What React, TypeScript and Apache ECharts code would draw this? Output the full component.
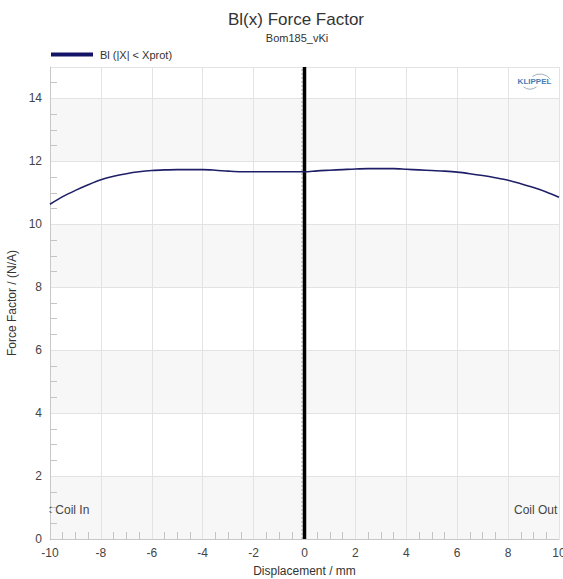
import React, { useEffect, useRef } from "react";
import * as echarts from "echarts";

const displacement = [
  -10, -9.5, -9, -8.5, -8, -7.5, -7, -6.5, -6, -5.5, -5, -4.5, -4, -3.5, -3, -2.5, -2, -1.5, -1, -0.5,
  0, 0.5, 1, 1.5, 2, 2.5, 3, 3.5, 4, 4.5, 5, 5.5, 6, 6.5, 7, 7.5, 8, 8.5, 9, 9.5, 10,
];
const forceFactor = [
  10.64, 10.88, 11.08, 11.26, 11.42, 11.53, 11.61, 11.67, 11.71, 11.73, 11.74, 11.74, 11.74, 11.72, 11.69, 11.67,
  11.67, 11.67, 11.67, 11.67, 11.67, 11.7, 11.72, 11.74, 11.76, 11.77, 11.77, 11.77, 11.75, 11.73, 11.71, 11.69,
  11.66, 11.61, 11.55, 11.48, 11.4, 11.29, 11.17, 11.03, 10.86,
];
const restPositionX = [0, 0];
const restPositionY = [0, 15];
const dottedX = [-0.1, -0.1];

const seriesName = "Bl (|X| < Xprot)";
const titleText = "Bl(x) Force Factor";
const subtitleText = "Bom185_vKi";
const xAxisName = "Displacement / mm";
const yAxisName = "Force Factor / (N/A)";
const FONT = "Arial, 'Liberation Sans', sans-serif";

export default function App() {
  const ref = useRef<HTMLDivElement>(null);
  useEffect(() => {
    document.body.style.margin = "0";
    if (!ref.current) return;
    const chart = echarts.init(ref.current, undefined, { renderer: "svg" });
    const mainData = displacement.map((x, i) => [x, forceFactor[i]]);
    const restLine = restPositionX.map((x, i) => [x, restPositionY[i]]);
    const dottedLine = dottedX.map((x, i) => [x, restPositionY[i]]);
    chart.setOption({
      animation: false,
      textStyle: { fontFamily: FONT },
      grid: { left: 50, right: 4, top: 67, bottom: 40, containLabel: false, outerBoundsMode: "none" },
      legend: {
        left: 51,
        top: 49,
        padding: 0,
        data: [{ name: seriesName, icon: "rect" }],
        itemWidth: 42,
        itemHeight: 4,
        itemGap: 6,
        textStyle: { fontSize: 11, color: "#333", fontFamily: FONT, padding: [0, 0, 0, 2] },
      },
      xAxis: {
        type: "value",
        min: -10,
        max: 10,
        interval: 2,
        name: xAxisName,
        nameLocation: "middle",
        nameGap: 26,
        nameTextStyle: { fontSize: 12, color: "#333", fontFamily: FONT },
        axisLine: { show: true, onZero: false, lineStyle: { color: "#c8c8c8" } },
        axisTick: { show: false, inside: true },
        minorTick: { show: true, splitNumber: 4, length: 7, lineStyle: { color: "#c4c4c4" } },
        axisLabel: { fontSize: 12, color: "#444", margin: 8 },
        splitLine: { show: true, lineStyle: { color: "#e3e3e3" } },
      },
      yAxis: {
        type: "value",
        min: 0,
        max: 15,
        interval: 2,
        name: yAxisName,
        nameLocation: "middle",
        nameGap: 30,
        nameTextStyle: { fontSize: 12, color: "#333", fontFamily: FONT },
        axisLine: { show: true, onZero: false, lineStyle: { color: "#c8c8c8" } },
        axisTick: { show: false, inside: true },
        minorTick: { show: true, splitNumber: 4, length: 7, lineStyle: { color: "#c4c4c4" } },
        axisLabel: { fontSize: 12, color: "#444", margin: 8, showMaxLabel: false },
        splitLine: { show: true, lineStyle: { color: "#e3e3e3" } },
        splitArea: { show: true, areaStyle: { color: ["#f7f7f7", "#ffffff"] } },
      },
      series: [
        {
          name: "dotted",
          type: "line",
          data: dottedLine,
          symbol: "none",
          silent: true,
          lineStyle: { color: "#b0b0b0", width: 1, type: [2, 2] },
          z: 3,
        },
        {
          name: "rest",
          type: "line",
          data: restLine,
          symbol: "none",
          silent: true,
          lineStyle: { color: "#000000", width: 3.5 },
          z: 4,
        },
        {
          name: seriesName,
          type: "line",
          data: mainData,
          symbol: "none",
          smooth: 0.3,
          color: "#141466",
          lineStyle: { color: "#1f1f68", width: 1.6 },
          z: 5,
        },
      ],
      graphic: [
        {
          type: "text",
          x: 296,
          y: 19,
          style: { text: titleText, font: `17px ${FONT}`, fill: "#333", align: "center", verticalAlign: "middle" },
        },
        {
          type: "text",
          x: 297,
          y: 38,
          style: { text: subtitleText, font: `11px ${FONT}`, fill: "#333", align: "center", verticalAlign: "middle" },
        },
        {
          type: "text",
          x: 45,
          y: 510,
          z: 10,
          style: { text: "< Coil In", font: `12px ${FONT}`, fill: "#444", verticalAlign: "middle" },
        },
        { type: "rect", x: 36, y: 502, z: 11, shape: { width: 13.5, height: 16 }, style: { fill: "#ffffff" } },
        {
          type: "text",
          x: 514,
          y: 510,
          z: 10,
          style: { text: "Coil Out", font: `12px ${FONT}`, fill: "#444", verticalAlign: "middle" },
        },
        {
          type: "arc",
          z: 20,
          shape: { cx: 540, cy: 87, r: 13, startAngle: Math.PI * 1.3, endAngle: Math.PI * 1.8 },
          style: { stroke: "#a4b0bd", lineWidth: 1, fill: "none" },
        },
        {
          type: "arc",
          z: 20,
          shape: { cx: 530, cy: 78, r: 11, startAngle: Math.PI * 0.3, endAngle: Math.PI * 0.7 },
          style: { stroke: "#a4b0bd", lineWidth: 1, fill: "none" },
        },
        {
          type: "text",
          z: 20,
          x: 534.5,
          y: 81,
          style: {
            text: "KLIPPEL",
            font: `bold 8px ${FONT}`,
            fill: "#4a7db3",
            align: "center",
            verticalAlign: "middle",
          },
        },
      ],
    });
    return () => chart.dispose();
  }, []);
  return <div ref={ref} style={{ width: 563, height: 579 }} />;
}
